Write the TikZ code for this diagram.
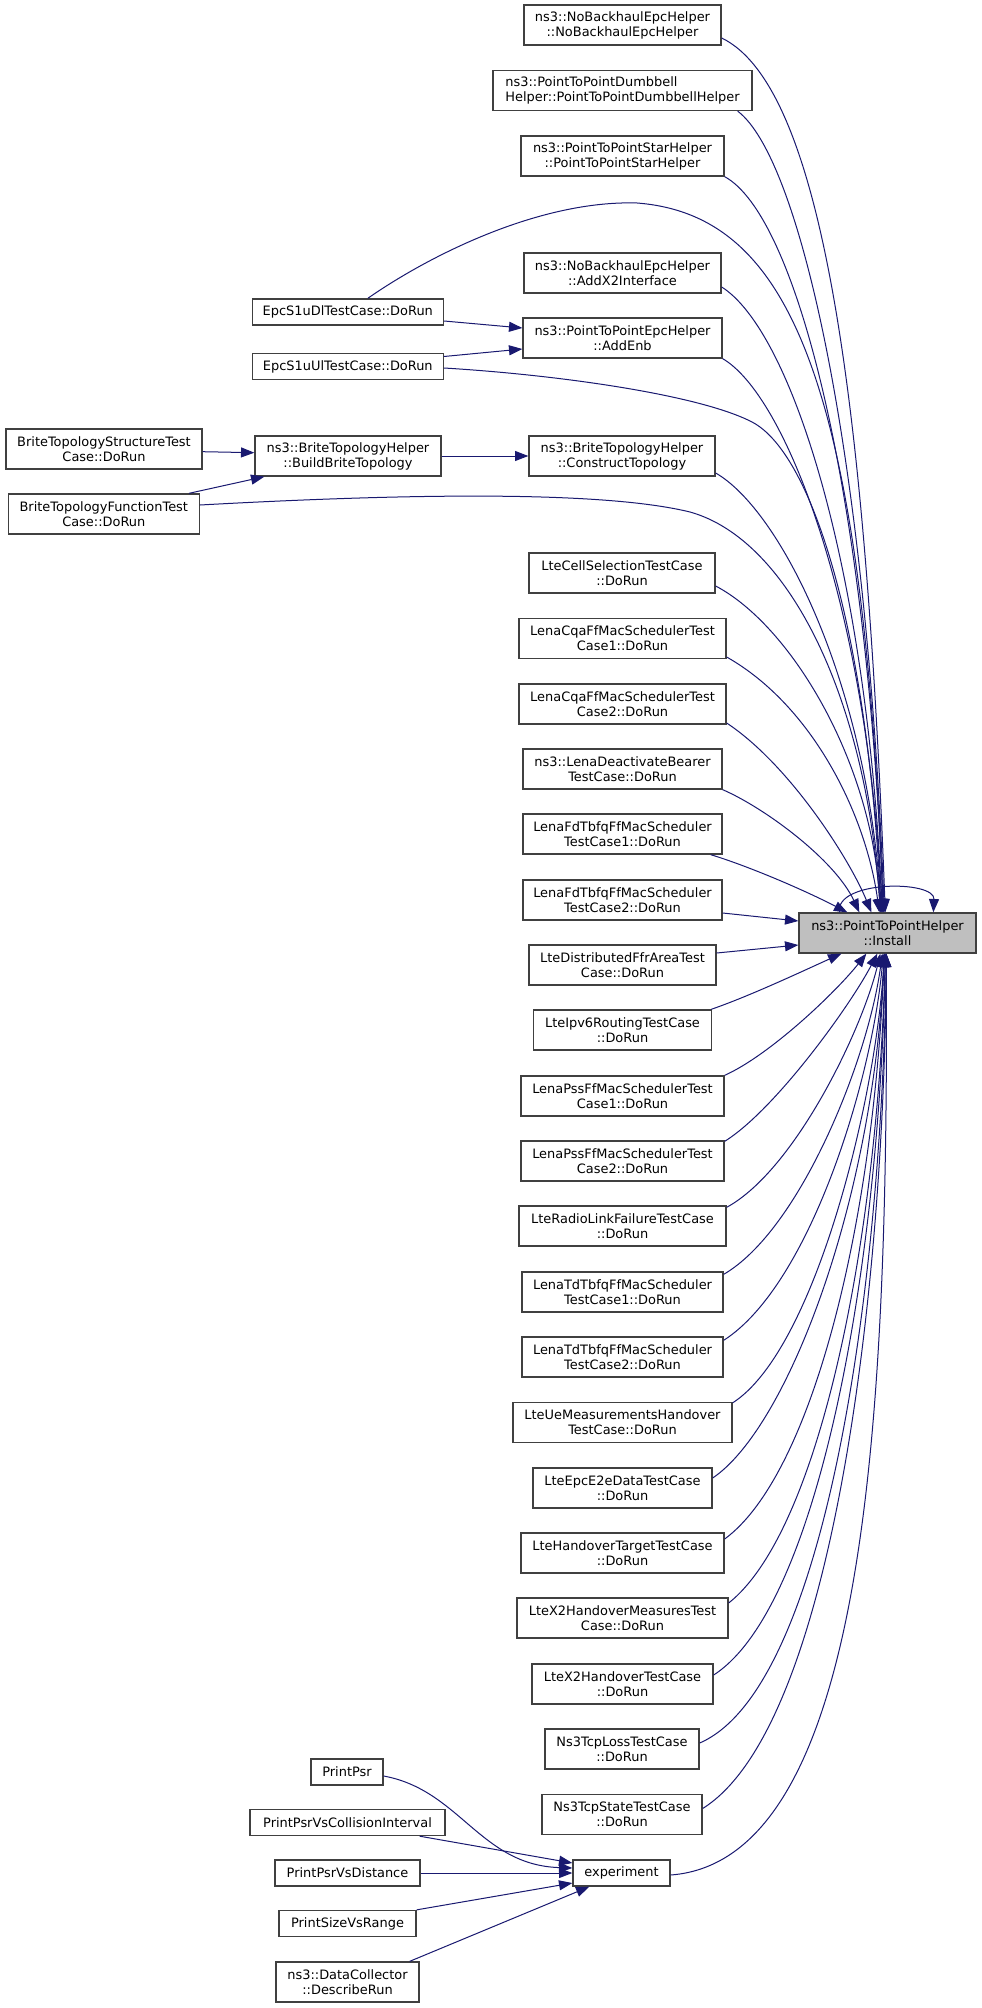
\documentclass[tikz,border=0pt]{standalone}
\usepackage{fontspec}
\setmainfont{DejaVu Sans}
\usetikzlibrary{calc,arrows.meta}
\definecolor{edgeblue}{RGB}{25,25,112}
\definecolor{boxgray}{RGB}{64,64,64}
\definecolor{fillgray}{RGB}{191,191,191}
\begin{document}
\begin{tikzpicture}[x=0.75pt,y=-0.75pt,
  box/.style={draw=boxgray, line width=1pt, fill=white, inner sep=0pt, minimum height=30pt, align=center, font=\fontsize{9.7pt}{11.25pt}\selectfont},
  sbox/.style={box, minimum height=19.5pt},
  edge/.style={draw=edgeblue, line width=0.75pt, -{Triangle[length=10pt,width=7.5pt]}}]
\fill[white] (0,0) rectangle (981,2008);
\useasboundingbox (0,0) rectangle (981,2008);

% right column
\node[box, minimum width=147.75pt] (nbh) at (622.5,25) {ns3::NoBackhaulEpcHelper\\::NoBackhaulEpcHelper};
\node[box, minimum width=194.25pt, align=left] (dumb) at (622.5,90.5) {ns3::PointToPointDumbbell\\Helper::PointToPointDumbbellHelper};
\node[box, minimum width=152.25pt] (star) at (622.5,156) {ns3::PointToPointStarHelper\\::PointToPointStarHelper};
\node[box, minimum width=147.75pt] (addx2) at (622.5,273) {ns3::NoBackhaulEpcHelper\\::AddX2Interface};
\node[box, minimum width=149.25pt] (addenb) at (622.5,338) {ns3::PointToPointEpcHelper\\::AddEnb};
\node[box, minimum width=139.5pt] (construct) at (622,456) {ns3::BriteTopologyHelper\\::ConstructTopology};
\node[box, minimum width=139.5pt] (ltecell) at (622,573) {LteCellSelectionTestCase\\::DoRun};
\node[box, minimum width=155.25pt] (cqa1) at (622.5,638.5) {LenaCqaFfMacSchedulerTest\\Case1::DoRun};
\node[box, minimum width=155.25pt] (cqa2) at (622.5,704) {LenaCqaFfMacSchedulerTest\\Case2::DoRun};
\node[box, minimum width=149.25pt] (deact) at (622.5,769) {ns3::LenaDeactivateBearer\\TestCase::DoRun};
\node[box, minimum width=149.25pt] (fd1) at (622.5,834) {LenaFdTbfqFfMacScheduler\\TestCase1::DoRun};
\node[box, minimum width=149.25pt] (fd2) at (622.5,900) {LenaFdTbfqFfMacScheduler\\TestCase2::DoRun};
\node[box, minimum width=132.75pt, fill=fillgray] (install) at (887.5,933) {ns3::PointToPointHelper\\::Install};
\node[box, minimum width=140.25pt] (dffr) at (622.5,965) {LteDistributedFfrAreaTest\\Case::DoRun};
\node[box, minimum width=133.5pt] (ipv6) at (622.5,1030) {LteIpv6RoutingTestCase\\::DoRun};
\node[box, minimum width=152.25pt] (pss1) at (622.5,1096) {LenaPssFfMacSchedulerTest\\Case1::DoRun};
\node[box, minimum width=152.25pt] (pss2) at (622.5,1161) {LenaPssFfMacSchedulerTest\\Case2::DoRun};
\node[box, minimum width=155.25pt] (rlf) at (622.5,1226) {LteRadioLinkFailureTestCase\\::DoRun};
\node[box, minimum width=150.75pt] (td1) at (622.5,1292) {LenaTdTbfqFfMacScheduler\\TestCase1::DoRun};
\node[box, minimum width=150.75pt] (td2) at (622.5,1357) {LenaTdTbfqFfMacScheduler\\TestCase2::DoRun};
\node[box, minimum width=164.25pt] (ueMeas) at (622.5,1422.5) {LteUeMeasurementsHandover\\TestCase::DoRun};
\node[box, minimum width=134.25pt] (e2e) at (622.5,1488) {LteEpcE2eDataTestCase\\::DoRun};
\node[box, minimum width=152.25pt] (hoTarget) at (622.5,1553) {LteHandoverTargetTestCase\\::DoRun};
\node[box, minimum width=158.25pt] (x2meas) at (622.5,1618) {LteX2HandoverMeasuresTest\\Case::DoRun};
\node[box, minimum width=135.75pt] (x2ho) at (622.5,1684) {LteX2HandoverTestCase\\::DoRun};
\node[box, minimum width=115.5pt] (tcploss) at (622,1749) {Ns3TcpLossTestCase\\::DoRun};
\node[box, minimum width=120pt] (tcpstate) at (622,1814.5) {Ns3TcpStateTestCase\\::DoRun};
\node[sbox, minimum width=72.75pt] (experiment) at (621.5,1873) {experiment};

% middle column
\node[sbox, minimum width=143.25pt] (epcdl) at (347.8,312) {EpcS1uDlTestCase::DoRun};
\node[sbox, minimum width=143.25pt] (epcul) at (347.8,366.5) {EpcS1uUlTestCase::DoRun};
\node[box, minimum width=139.5pt] (build) at (348,456) {ns3::BriteTopologyHelper\\::BuildBriteTopology};
\node[sbox, minimum width=54pt] (printpsr) at (347,1772) {PrintPsr};
\node[sbox, minimum width=146.25pt] (collint) at (347.5,1822.5) {PrintPsrVsCollisionInterval};
\node[sbox, minimum width=108.75pt] (dist) at (347.5,1873) {PrintPsrVsDistance};
\node[sbox, minimum width=102.75pt] (range) at (347.5,1923.5) {PrintSizeVsRange};
\node[box, minimum width=107.25pt] (collector) at (347.5,1982) {ns3::DataCollector\\::DescribeRun};

% left column
\node[box, minimum width=147pt] (britestruct) at (104,449) {BriteTopologyStructureTest\\Case::DoRun};
\node[box, minimum width=143.25pt] (britefunc) at (103.8,514) {BriteTopologyFunctionTest\\Case::DoRun};

% edges into Install from above
\draw[edge] ($(nbh.east)+(0,13)$) .. controls (825,88) and (866,413) .. ($(install.north west)+(87,0)$);
\draw[edge] ($(dumb.south east)+(-15,0)$) .. controls (800,158) and (866,450) .. ($(install.north west)+(86,0)$);
\draw[edge] (star.south east) .. controls (795,215) and (866,480) .. ($(install.north west)+(85,0)$);
\draw[edge] ($(epcdl.north)+(20,0)$) .. controls (430,255) and (540,200) .. (637,203) .. controls (790,215) and (862,380) .. ($(install.north west)+(85,0)$);
\draw[edge] ($(addx2.east)+(0,14)$) .. controls (790,330) and (866,560) .. ($(install.north west)+(84,0)$);
\draw[edge] (addenb.south east) .. controls (785,395) and (866,600) .. ($(install.north west)+(84,0)$);
\draw[edge] ($(epcul.east)+(0,1.5)$) .. controls (560,375) and (700,395) .. (752,422) .. controls (810,452) and (866,620) .. ($(install.north west)+(83,0)$);
\draw[edge] ($(construct.east)+(0,17)$) .. controls (780,510) and (866,680) .. ($(install.north west)+(83,0)$);
\draw[edge] ($(britefunc.east)+(0,-9)$) .. controls (400,494) and (600,490) .. (690,512) .. controls (790,540) and (866,700) .. ($(install.north west)+(82,0)$);
\draw[edge] ($(ltecell.east)+(0,13)$) .. controls (790,625) and (872,760) .. ($(install.north west)+(82,0)$);
\draw[edge] ($(cqa1.east)+(0,18.5)$) .. controls (813,706) and (866,815) .. ($(install.north west)+(81,0)$);
\draw[edge] ($(cqa2.east)+(0,19)$) .. controls (790,765) and (850,860) .. ($(install.north west)+(73,0)$);
\draw[edge] (deact.south east) .. controls (765,808) and (835,860) .. ($(install.north west)+(61,0)$);
\draw[edge] ($(fd1.south east)+(-12,0)$) .. controls (745,865) and (800,888) .. ($(install.north west)+(49,0)$);
\draw[edge] ($(fd2.east)+(0,13)$) -- ($(install.west)+(0,-12)$);
\draw[edge] ($(dffr.east)+(0,-12)$) -- ($(install.west)+(0,12)$);
\draw[edge] ($(install.north west)+(41,0)$) .. controls (835,880) and (935,880) .. ($(install.north west)+(135,0)$);

% edges into Install from below
\draw[edge] ($(ipv6.north east)+(-1,0)$) .. controls (750,996) and (805,970) .. ($(install.south west)+(43,0)$);
\draw[edge] (pss1.north east) .. controls (770,1055) and (836,992) .. ($(install.south west)+(68,0)$);
\draw[edge] ($(pss2.north east)+(0,1)$) .. controls (775,1110) and (850,1006) .. ($(install.south west)+(79,0)$);
\draw[edge] ($(rlf.north east)+(0,2)$) .. controls (795,1170) and (862,1030) .. ($(install.south west)+(82,0)$);
\draw[edge] ($(td1.north east)+(0,3)$) .. controls (800,1230) and (868,1060) .. ($(install.south west)+(84,0)$);
\draw[edge] ($(td2.north east)+(0,4)$) .. controls (810,1285) and (872,1080) .. ($(install.south west)+(85,0)$);
\draw[edge] ($(ueMeas.north east)+(0,1)$) .. controls (815,1350) and (876,1100) .. ($(install.south west)+(86,0)$);
\draw[edge] ($(e2e.east)+(0,-10)$) .. controls (787,1428) and (873,1203) .. ($(install.south west)+(86,0)$);
\draw[edge] ($(hoTarget.east)+(0,-14)$) .. controls (813,1474) and (874,1220) .. ($(install.south west)+(86,0)$);
\draw[edge] ($(x2meas.east)+(0,-15)$) .. controls (822,1529) and (878,1230) .. ($(install.south west)+(87,0)$);
\draw[edge] ($(x2ho.east)+(0,-9)$) .. controls (822,1605) and (880,1250) .. ($(install.south west)+(87,0)$);
\draw[edge] ($(tcploss.east)+(0,-6)$) .. controls (829,1687) and (882,1270) .. ($(install.south west)+(88,0)$);
\draw[edge] ($(tcpstate.east)+(0,-6)$) .. controls (833,1727) and (884,1290) .. ($(install.south west)+(88,0)$);
\draw[edge] ($(experiment.east)+(0,2)$) .. controls (870,1860) and (888,1400) .. ($(install.south west)+(88,0)$);

% left side edges
\draw[edge] ($(britestruct.east)+(0,2.7)$) -- ($(build.west)+(0,-3.3)$);
\draw[edge] ($(britefunc.north east)+(-11,0)$) -- ($(build.south west)+(10,0)$);
\draw[edge] (build.east) -- (construct.west);
\draw[edge] ($(epcdl.east)+(0,9)$) -- ($(addenb.west)+(0,-10)$);
\draw[edge] ($(epcul.east)+(0,-10)$) -- ($(addenb.west)+(0,11)$);

% edges into experiment
\draw[edge] ($(printpsr.east)+(0,4)$) .. controls (460,1790) and (480,1865) .. ($(experiment.west)+(0,-5)$);
\draw[edge] ($(collint.south east)+(-26,0)$) -- ($(experiment.west)+(0,-10)$);
\draw[edge] (dist.east) -- (experiment.west);
\draw[edge] (range.north east) -- ($(experiment.west)+(0,10)$);
\draw[edge] ($(collector.north east)+(-10,0)$) -- ($(experiment.south west)+(17,0)$);
\end{tikzpicture}
\end{document}
